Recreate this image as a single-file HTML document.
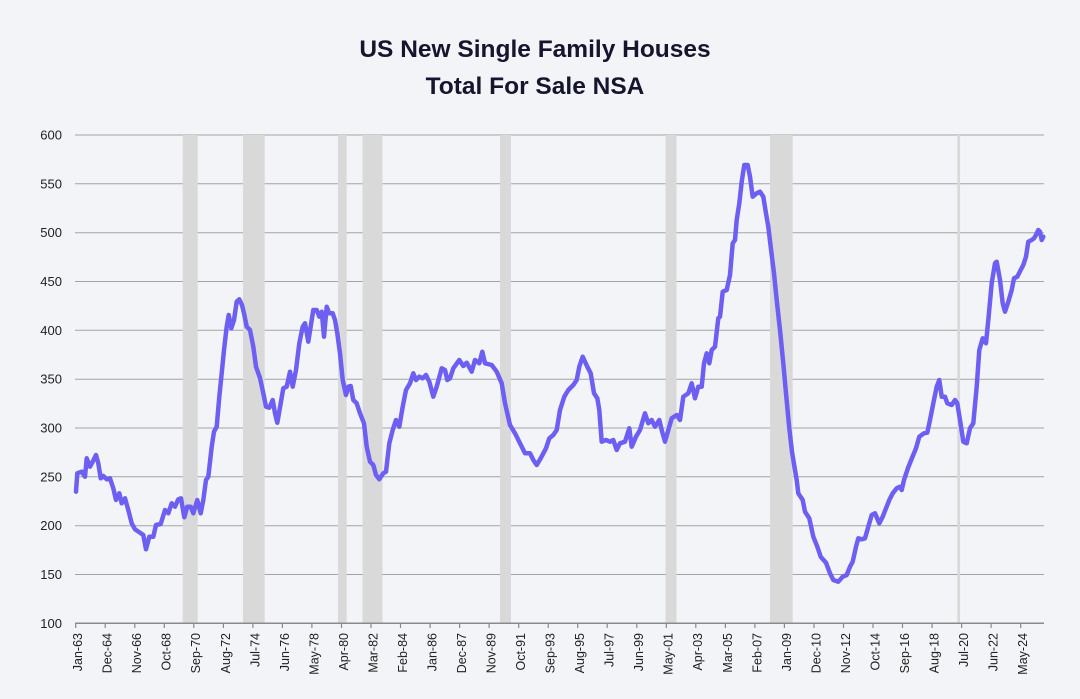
<!DOCTYPE html>
<html>
<head>
<meta charset="utf-8">
<style>
html,body{margin:0;padding:0;background:#f3f4f7;}
body{width:1080px;height:699px;overflow:hidden;}
svg{display:block;}
text{font-family:"Liberation Sans",sans-serif;}
</style>
</head>
<body>
<svg width="1080" height="699" viewBox="0 0 1080 699" xmlns="http://www.w3.org/2000/svg">
<rect width="1080" height="699" fill="#f3f4f7"/>
<text x="535" y="57" text-anchor="middle" font-size="24.5" font-weight="bold" fill="#15152d">US New Single Family Houses</text>
<text x="535" y="94" text-anchor="middle" font-size="24.5" font-weight="bold" fill="#15152d">Total For Sale NSA</text>

<g stroke="#a3a3a3" stroke-width="1">
<line x1="75" x2="1044" y1="135" y2="135"/>
<line x1="75" x2="1044" y1="183.8" y2="183.8"/>
<line x1="75" x2="1044" y1="232.7" y2="232.7"/>
<line x1="75" x2="1044" y1="281.5" y2="281.5"/>
<line x1="75" x2="1044" y1="330.3" y2="330.3"/>
<line x1="75" x2="1044" y1="379.2" y2="379.2"/>
<line x1="75" x2="1044" y1="428" y2="428"/>
<line x1="75" x2="1044" y1="476.8" y2="476.8"/>
<line x1="75" x2="1044" y1="525.7" y2="525.7"/>
<line x1="75" x2="1044" y1="574.5" y2="574.5"/>
</g>

<g fill="#d9d9d9">
<rect x="182.7" y="135" width="15" height="488"/>
<rect x="243" y="135" width="21.7" height="488"/>
<rect x="338" y="135" width="8.7" height="488"/>
<rect x="362.5" y="135" width="20" height="488"/>
<rect x="500" y="135" width="11" height="488"/>
<rect x="665.5" y="135" width="11" height="488"/>
<rect x="770" y="135" width="22.7" height="488"/>
<rect x="957.3" y="135" width="2.8" height="488"/>
</g>

<line x1="75" x2="1044" y1="623.3" y2="623.3" stroke="#8a8a8a" stroke-width="1.5"/>

<g font-size="13" fill="#222" text-anchor="end">
<text x="62" y="139.5">600</text>
<text x="62" y="188.3">550</text>
<text x="62" y="237.2">500</text>
<text x="62" y="286">450</text>
<text x="62" y="334.8">400</text>
<text x="62" y="383.7">350</text>
<text x="62" y="432.5">300</text>
<text x="62" y="481.3">250</text>
<text x="62" y="530.2">200</text>
<text x="62" y="579">150</text>
<text x="62" y="627.8">100</text>
</g>

<g stroke="#8a8a8a" stroke-width="1.2">
<line x1="75.7" x2="75.7" y1="623" y2="628"/>
<line x1="105.2" x2="105.2" y1="623" y2="628"/>
<line x1="134.8" x2="134.8" y1="623" y2="628"/>
<line x1="164.3" x2="164.3" y1="623" y2="628"/>
<line x1="193.8" x2="193.8" y1="623" y2="628"/>
<line x1="223.4" x2="223.4" y1="623" y2="628"/>
<line x1="252.9" x2="252.9" y1="623" y2="628"/>
<line x1="282.4" x2="282.4" y1="623" y2="628"/>
<line x1="311.9" x2="311.9" y1="623" y2="628"/>
<line x1="341.5" x2="341.5" y1="623" y2="628"/>
<line x1="371" x2="371" y1="623" y2="628"/>
<line x1="400.5" x2="400.5" y1="623" y2="628"/>
<line x1="430.1" x2="430.1" y1="623" y2="628"/>
<line x1="459.6" x2="459.6" y1="623" y2="628"/>
<line x1="489.1" x2="489.1" y1="623" y2="628"/>
<line x1="518.7" x2="518.7" y1="623" y2="628"/>
<line x1="548.2" x2="548.2" y1="623" y2="628"/>
<line x1="577.7" x2="577.7" y1="623" y2="628"/>
<line x1="607.2" x2="607.2" y1="623" y2="628"/>
<line x1="636.8" x2="636.8" y1="623" y2="628"/>
<line x1="666.3" x2="666.3" y1="623" y2="628"/>
<line x1="695.8" x2="695.8" y1="623" y2="628"/>
<line x1="725.4" x2="725.4" y1="623" y2="628"/>
<line x1="754.9" x2="754.9" y1="623" y2="628"/>
<line x1="784.4" x2="784.4" y1="623" y2="628"/>
<line x1="814" x2="814" y1="623" y2="628"/>
<line x1="843.5" x2="843.5" y1="623" y2="628"/>
<line x1="873" x2="873" y1="623" y2="628"/>
<line x1="902.5" x2="902.5" y1="623" y2="628"/>
<line x1="932.1" x2="932.1" y1="623" y2="628"/>
<line x1="961.6" x2="961.6" y1="623" y2="628"/>
<line x1="991.1" x2="991.1" y1="623" y2="628"/>
<line x1="1020.7" x2="1020.7" y1="623" y2="628"/>
</g>

<g font-size="12.5" fill="#222" text-anchor="end">
<text transform="translate(77.7,633) rotate(-90)" dy="0.35em">Jan-63</text>
<text transform="translate(107.2,633) rotate(-90)" dy="0.35em">Dec-64</text>
<text transform="translate(136.8,633) rotate(-90)" dy="0.35em">Nov-66</text>
<text transform="translate(166.3,633) rotate(-90)" dy="0.35em">Oct-68</text>
<text transform="translate(195.8,633) rotate(-90)" dy="0.35em">Sep-70</text>
<text transform="translate(225.4,633) rotate(-90)" dy="0.35em">Aug-72</text>
<text transform="translate(254.9,633) rotate(-90)" dy="0.35em">Jul-74</text>
<text transform="translate(284.4,633) rotate(-90)" dy="0.35em">Jun-76</text>
<text transform="translate(313.9,633) rotate(-90)" dy="0.35em">May-78</text>
<text transform="translate(343.5,633) rotate(-90)" dy="0.35em">Apr-80</text>
<text transform="translate(373,633) rotate(-90)" dy="0.35em">Mar-82</text>
<text transform="translate(402.5,633) rotate(-90)" dy="0.35em">Feb-84</text>
<text transform="translate(432.1,633) rotate(-90)" dy="0.35em">Jan-86</text>
<text transform="translate(461.6,633) rotate(-90)" dy="0.35em">Dec-87</text>
<text transform="translate(491.1,633) rotate(-90)" dy="0.35em">Nov-89</text>
<text transform="translate(520.7,633) rotate(-90)" dy="0.35em">Oct-91</text>
<text transform="translate(550.2,633) rotate(-90)" dy="0.35em">Sep-93</text>
<text transform="translate(579.7,633) rotate(-90)" dy="0.35em">Aug-95</text>
<text transform="translate(609.2,633) rotate(-90)" dy="0.35em">Jul-97</text>
<text transform="translate(638.8,633) rotate(-90)" dy="0.35em">Jun-99</text>
<text transform="translate(668.3,633) rotate(-90)" dy="0.35em">May-01</text>
<text transform="translate(697.8,633) rotate(-90)" dy="0.35em">Apr-03</text>
<text transform="translate(727.4,633) rotate(-90)" dy="0.35em">Mar-05</text>
<text transform="translate(756.9,633) rotate(-90)" dy="0.35em">Feb-07</text>
<text transform="translate(786.4,633) rotate(-90)" dy="0.35em">Jan-09</text>
<text transform="translate(816,633) rotate(-90)" dy="0.35em">Dec-10</text>
<text transform="translate(845.5,633) rotate(-90)" dy="0.35em">Nov-12</text>
<text transform="translate(875,633) rotate(-90)" dy="0.35em">Oct-14</text>
<text transform="translate(904.5,633) rotate(-90)" dy="0.35em">Sep-16</text>
<text transform="translate(934.1,633) rotate(-90)" dy="0.35em">Aug-18</text>
<text transform="translate(963.6,633) rotate(-90)" dy="0.35em">Jul-20</text>
<text transform="translate(993.1,633) rotate(-90)" dy="0.35em">Jun-22</text>
<text transform="translate(1022.7,633) rotate(-90)" dy="0.35em">May-24</text>
</g>

<polyline fill="none" stroke="#6e5ff3" stroke-width="4.5" stroke-linejoin="round" stroke-linecap="round" points="
76,491.7 77.3,473.3 81.7,471.7 85,476.7 86.7,458.3 90,466.7 92.7,461.7 96,455 98.3,463.3 100.7,478.3 103.3,476 106.7,479.3 110,478.3 113.3,488.3 116,500 119.3,493.3 121.7,503.3 125,498.3 128.3,510 131.7,523.3 135,529.3 140,532.7 143.3,535 146,549.3 149.3,536.7 153.3,536.7 156,525 160.7,524 165,510 168.3,513.3 171.7,503.3 175,506.7 178.3,499.3 181,498.3 184.3,517.3 187.3,506.7 190.7,506.7 193.3,513.3 197.3,500 200.7,513.3 203.3,500 206,480 208.3,476.7 211.7,446.7 214,431.7 216.7,426.7 219.3,396.7 221.7,373.3 224,350 226.7,326.7 228.7,315 231.3,328.3 234,320 236.7,301.7 239.3,299.3 242,305 244,313.3 246.7,326.7 250,330 253.3,346.7 256,366.7 258.3,373.3
260,378 263.3,393.3 266,406.7 269.3,407.7 272.7,400 275,413.3 277.3,422.7 280.7,403.3 283.3,388.3 286.7,386.7 290,371.7 292.7,386.7 296,370 299.3,343.3 302.7,326.7 305,323.3 308.3,341.7 311.7,320 313.3,310 316.7,310 319.3,316.7 321.7,311.7 324,336.7 326.7,306.7 329.3,313.3 332.7,313.3 335,320 337.3,333.3 340,353.3 342.7,380 346,395 348.3,386.7 350.7,386 353.3,400 356.7,403.3 360,413.3 364,423.3 366.7,446.7 370,461.7 373.3,465 376,475 379.3,479.3 383.3,473.3 386,471.7 389.3,443.3 392.7,430 396,420 399.3,426.7 402.7,406.7 406,390 410,383.3 413.3,373.3 416,380 419.3,376.7 422.7,378.3 426,375 429.3,381.7 433.3,396.7 436.7,386.7 441.7,368.3 445,370 447.3,380
450,378.3 453.3,368.3 459.3,360 463.3,366 466.7,362.7 471.7,371.7 475,360 479.3,363.3 482.3,351.7 485,363.3 491.7,365 496.7,371.7 501.7,383.3 505,403.3 510,425 515,433.3 520,443.3 525,453.3 530,453.3 533.3,460 536.7,465 540.7,458.3 546,448.3 549.3,438.3 553.3,435 556.7,430 560,410 564.3,396.7 568.3,390 573.3,385 576.7,380 579.3,366.7 582.7,356.7 585,361.7 587.3,366.7 590.7,373.3 594,393.3 597.3,398.3 599.3,410 601.7,441.7 606,440 610,441.7 613.3,440 616.7,450 620,443.3 625,441.7 629.3,428.3 631.7,446.7 636,436.7 640,430 645,413.3 648.3,423.3 651.7,420 655,426.7 659.3,420 661.7,430 665,441.7 668.3,430 671.7,418.3 676.7,415
680,420 683.3,396.7 688.3,393.3 691.7,383.3 695,398.3 698.3,386.7 701.7,386.7 704,363.3 706.7,353.3 709.3,363.3 711.7,350 715,346.7 718.3,318.3 720,316.7 722.7,291.7 726.7,290 730,275 732.7,243.3 735,240 736.7,220 739.3,203.3 741.7,181.7 744.3,165 747.7,165 750,176.7 752.7,196.7 756.7,193.3 760,191.7 763.3,196.7 766,213.3 768.3,226.7 770.7,246.7 774,273.3 776.7,300 780,330 783.3,363.3 786,393.3 789.3,428.3 792,452 794.5,467
796.7,480 798.3,493.3 802.7,500 805,511.7 809.3,518.3 813.3,536.7 817.3,546.7 820.7,556.7 826,562.7 830,573.3 833.3,580 838.3,581.7 842.7,576.7 846.7,575 850,566.7 852.7,561.7 856,546.7 858.3,538.3 861.7,539.3 865,538.3 868.3,526.7 871.7,515 875,513.3 879.3,523.3 882.7,516.7 886,508.3 889.3,500 892.7,493.3 896.7,488.3 900,486.7 901.7,490 904,480 908,468 912,458
916,448.3 919.3,436.7 924,433.3 927.3,432.7 930,420 933.3,403.3 936.7,386.7 939.3,380 941.7,396.7 945,396.7 947.3,403.3 951.7,405 955,400 957.3,403.3 960,420 963.3,441.7 966.7,443.3 970,428.3 973.3,423.3 976.7,386.7 979.3,350 982.7,338.3 986,343.3 988.3,320 991.7,283.3 995,263.3 996.7,261.7 1000,280 1002.7,303.3 1005,311.7 1008.3,301.7 1011.7,290 1014,278.3 1017.3,276.7 1020.7,270 1023.3,265 1026,256.7 1028.3,241.7 1031.7,240 1034,238.3 1036,235 1038.3,230 1040,231.7 1041.7,240 1043.3,236.7"/>
</svg>
</body>
</html>
